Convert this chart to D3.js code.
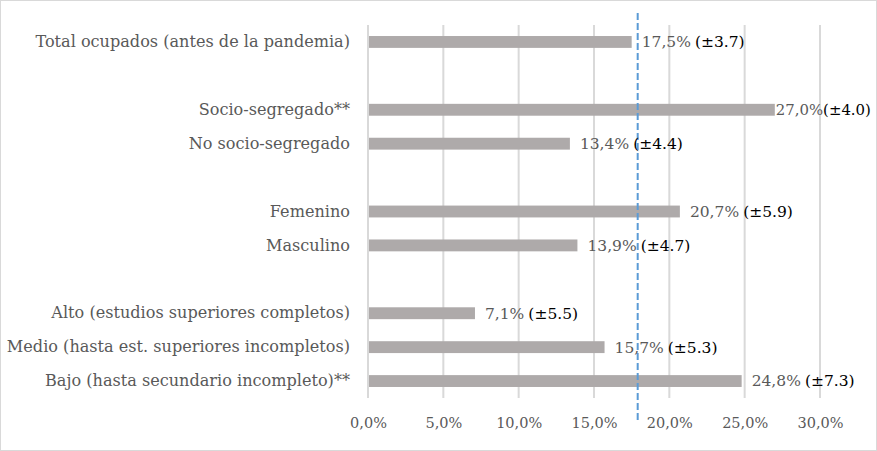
<!DOCTYPE html>
<html>
<head>
<meta charset="utf-8">
<script src="https://cdn.jsdelivr.net/npm/d3@7"></script>
<style>
  body { margin: 0; background: #fff; }
  text { font-family: "DejaVu Serif", "Liberation Serif", serif; }
</style>
</head>
<body>
<div id="chart"></div>
<script>
// Categories (blank strings are the spacer rows between groups)
var categories = [
    "Total ocupados (antes de la pandemia)",
    "",
    "Socio-segregado**",
    "No socio-segregado",
    " ",
    "Femenino",
    "Masculino",
    "  ",
    "Alto (estudios superiores completos)",
    "Medio (hasta est. superiores incompletos)",
    "Bajo (hasta secundario incompleto)**"
];
var values = [17.5, null, 27.0, 13.4, null, 20.7, 13.9, null, 7.1, 15.7, 24.8];
var margins = ["3.7", null, "4.0", "4.4", null, "5.9", "4.7", null, "5.5", "5.3", "7.3"];
var tickValues = [0, 5, 10, 15, 20, 25, 30];
var referenceValue = 17.9;

var svgWidth = 877;
var svgHeight = 451;
var chartMargin = { top: 25, right: 57, bottom: 53, left: 368 };
var chartWidth = svgWidth - chartMargin.left - chartMargin.right;
var chartHeight = svgHeight - chartMargin.top - chartMargin.bottom;

var svg = d3.select("#chart")
    .append("svg")
    .attr("width", svgWidth)
    .attr("height", svgHeight);

// outer frame
svg.append("rect")
    .attr("x", 0.5).attr("y", 0.5)
    .attr("width", svgWidth - 1).attr("height", svgHeight - 1)
    .attr("fill", "#fff")
    .attr("stroke", "#d9d9d9");

var chartGroup = svg.append("g")
    .attr("transform", `translate(${chartMargin.left}, ${chartMargin.top})`);

var xScale = d3.scaleLinear()
    .domain([0, 30])
    .range([0, chartWidth]);

var yScale = d3.scaleBand()
    .domain(categories)
    .range([0, chartHeight])
    .paddingInner(0.65)
    .paddingOuter(0.325);

// vertical gridlines
chartGroup.selectAll("line.grid")
    .data(tickValues)
    .enter()
    .append("line")
    .attr("class", "grid")
    .attr("x1", d => xScale(d))
    .attr("x2", d => xScale(d))
    .attr("y1", 0)
    .attr("y2", chartHeight)
    .attr("stroke", "#d9d9d9")
    .attr("stroke-width", 2);

// bottom axis (labels only)
var bottomAxis = d3.axisBottom(xScale)
    .tickValues(tickValues)
    .tickSize(0)
    .tickPadding(20)
    .tickFormat(d => d3.format(".1f")(d).replace(".", ",") + "%");

var xAxisG = chartGroup.append("g")
    .attr("transform", `translate(0, ${chartHeight})`)
    .call(bottomAxis);
xAxisG.select(".domain").remove();
xAxisG.selectAll("text")
    .attr("fill", "#595959")
    .attr("font-size", "14.5px")
    .style("font-family", "DejaVu Serif, serif");

// left axis (category labels)
var leftAxis = d3.axisLeft(yScale).tickSize(0).tickPadding(18);
var yAxisG = chartGroup.append("g").call(leftAxis);
yAxisG.select(".domain").remove();
yAxisG.selectAll("text")
    .attr("fill", "#595959")
    .attr("font-size", "16.1px")
    .style("font-family", "DejaVu Serif, serif");

var rows = categories.map((c, i) => ({ cat: c, value: values[i], err: margins[i] }))
    .filter(d => d.value !== null);

// bars
chartGroup.selectAll("rect.bar")
    .data(rows)
    .enter()
    .append("rect")
    .attr("class", "bar")
    .attr("x", xScale(0) + 1)
    .attr("y", d => yScale(d.cat))
    .attr("width", d => xScale(d.value) - 1)
    .attr("height", yScale.bandwidth())
    .attr("fill", "#aeaaaa");

// reference dashed line
chartGroup.append("line")
    .attr("x1", xScale(referenceValue))
    .attr("x2", xScale(referenceValue))
    .attr("y1", -12)
    .attr("y2", chartHeight + 22)
    .attr("stroke", "#5b9bd5")
    .attr("stroke-width", 2)
    .attr("stroke-dasharray", "7,3");

// value labels with margin of error
var labelFont = 15.5;
var labels = chartGroup.selectAll("text.val")
    .data(rows)
    .enter()
    .append("text")
    .attr("class", "val")
    .attr("y", d => yScale(d.cat) + yScale.bandwidth() / 2)
    .attr("dy", "0.35em")
    .attr("font-size", labelFont + "px");

labels.append("tspan")
    .attr("class", "pct")
    .attr("fill", "#595959")
    .text(d => d3.format(".1f")(d.value).replace(".", ",") + "%");
labels.append("tspan")
    .attr("class", "err")
    .attr("fill", "#000")
    .attr("dx", 4)
    .text(d => "(\u00b1" + d.err + ")");

// keep labels inside the frame: hug the bar and shrink if still too wide
var rightLimit = svgWidth - chartMargin.left - 6;
labels.each(function(d) {
    var t = d3.select(this);
    var x = xScale(d.value) + 10;
    if (x + this.getComputedTextLength() > rightLimit) {
        x = xScale(d.value) + 1;
        t.select(".err").attr("dx", 0);
        var w = this.getComputedTextLength();
        if (x + w > rightLimit) {
            t.attr("font-size", (labelFont * (rightLimit - x) / w) + "px");
        }
    }
    t.attr("x", x);
});
</script>
</body>
</html>
